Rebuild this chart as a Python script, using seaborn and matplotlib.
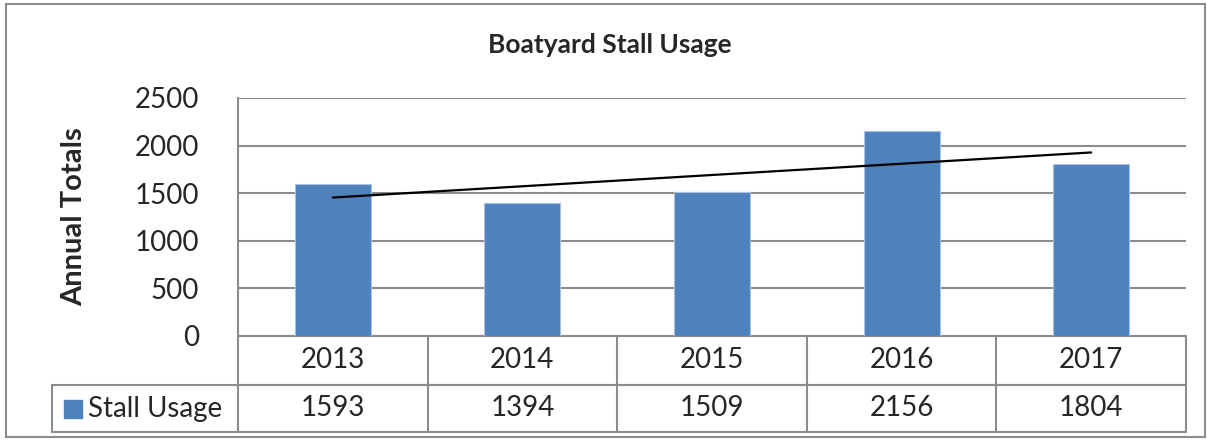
import numpy as np
import pandas as pd
import seaborn as sns
import matplotlib.pyplot as plt
from matplotlib.patches import Rectangle
from matplotlib.lines import Line2D
import matplotlib.transforms as mtransforms

# chart data
years = ["2013", "2014", "2015", "2016", "2017"]
usage = [1593, 1394, 1509, 2156, 1804]
series_name = "Stall Usage"

df = pd.DataFrame({"year": years, "usage": usage})

sns.set_style("white")
plt.rcParams["font.family"] = ["Lato", "DejaVu Sans"]

bar_color = "#4F81BD"
grid_color = "#8C8C8C"

fig = plt.figure(figsize=(12.07, 4.41), dpi=100)
ax = fig.add_axes([238 / 1207, 1 - 336 / 441, (1186 - 238) / 1207, (336 - 98) / 441])

sns.barplot(data=df, x="year", y="usage", color=bar_color, width=0.4, saturation=1,
            edgecolor="#A9C1DF", linewidth=0.8, ax=ax, zorder=3)

# linear trendline
xs = np.arange(len(usage))
k, b = np.polyfit(xs, usage, 1)
ax.plot(xs, k * xs + b, color="black", lw=1.6, zorder=4)

ax.set_ylim(0, 2500)
ax.set_xlim(-0.5, len(years) - 0.5)
ax.set_yticks(range(0, 2501, 500))
ax.yaxis.grid(True, color=grid_color, lw=1.5, zorder=0)
ax.set_axisbelow(True)
ax.tick_params(axis="y", length=0, labelsize=20, pad=28)
ax.tick_params(axis="x", length=0, labelbottom=False)
ax.set_xlabel("")
ax.set_ylabel("Annual Totals", fontsize=21, fontweight="bold", labelpad=34)
for s in ["top", "right", "bottom"]:
    ax.spines[s].set_visible(False)
ax.spines["left"].set_color(grid_color)
ax.spines["left"].set_linewidth(1.5)

fig.text(610 / 1207, 1 - 45 / 441, "Boatyard Stall Usage", ha="center", va="center",
         fontsize=19, fontweight="bold")

# data table under the plot
r1 = -49 / 238
r2 = -96 / 238
lx = (52 - 238) / 948
tr = mtransforms.blended_transform_factory(ax.transData, ax.transAxes)
ta = ax.transAxes
lk = dict(color=grid_color, lw=1.5, clip_on=False)
ax.add_line(Line2D([0, 1], [0, 0], transform=ta, **lk))
ax.add_line(Line2D([0, 1], [r1, r1], transform=ta, **lk))
ax.add_line(Line2D([lx, 1], [r1, r1], transform=ta, **lk))
ax.add_line(Line2D([lx, 1], [r2, r2], transform=ta, **lk))
ax.add_line(Line2D([lx, lx], [r1, r2], transform=ta, **lk))
ax.add_line(Line2D([0, 0], [0, r2], transform=ta, **lk))
for i in range(len(years)):
    ax.add_line(Line2D([i + 0.5, i + 0.5], [0, r2], transform=tr, **lk))
    ax.text(i, r1 / 2, years[i], transform=tr, ha="center", va="center", fontsize=20)
    ax.text(i, (r1 + r2) / 2, str(usage[i]), transform=tr, ha="center", va="center", fontsize=20)

ax.add_patch(Rectangle((lx + 12 / 948, (r1 + r2) / 2 - 9 / 238), 18 / 948, 18 / 238,
                       transform=ta, color=bar_color, clip_on=False))
ax.text(lx + 36 / 948, (r1 + r2) / 2, series_name, transform=ta, ha="left",
        va="center", fontsize=20)

# chart area border
fig.patches.append(Rectangle((6 / 1207, 1 - 437 / 441), (1205 - 6) / 1207, (437 - 4) / 441,
                             transform=fig.transFigure, fill=False,
                             edgecolor=grid_color, lw=1.5))

fig.savefig("out.png", dpi=100)
